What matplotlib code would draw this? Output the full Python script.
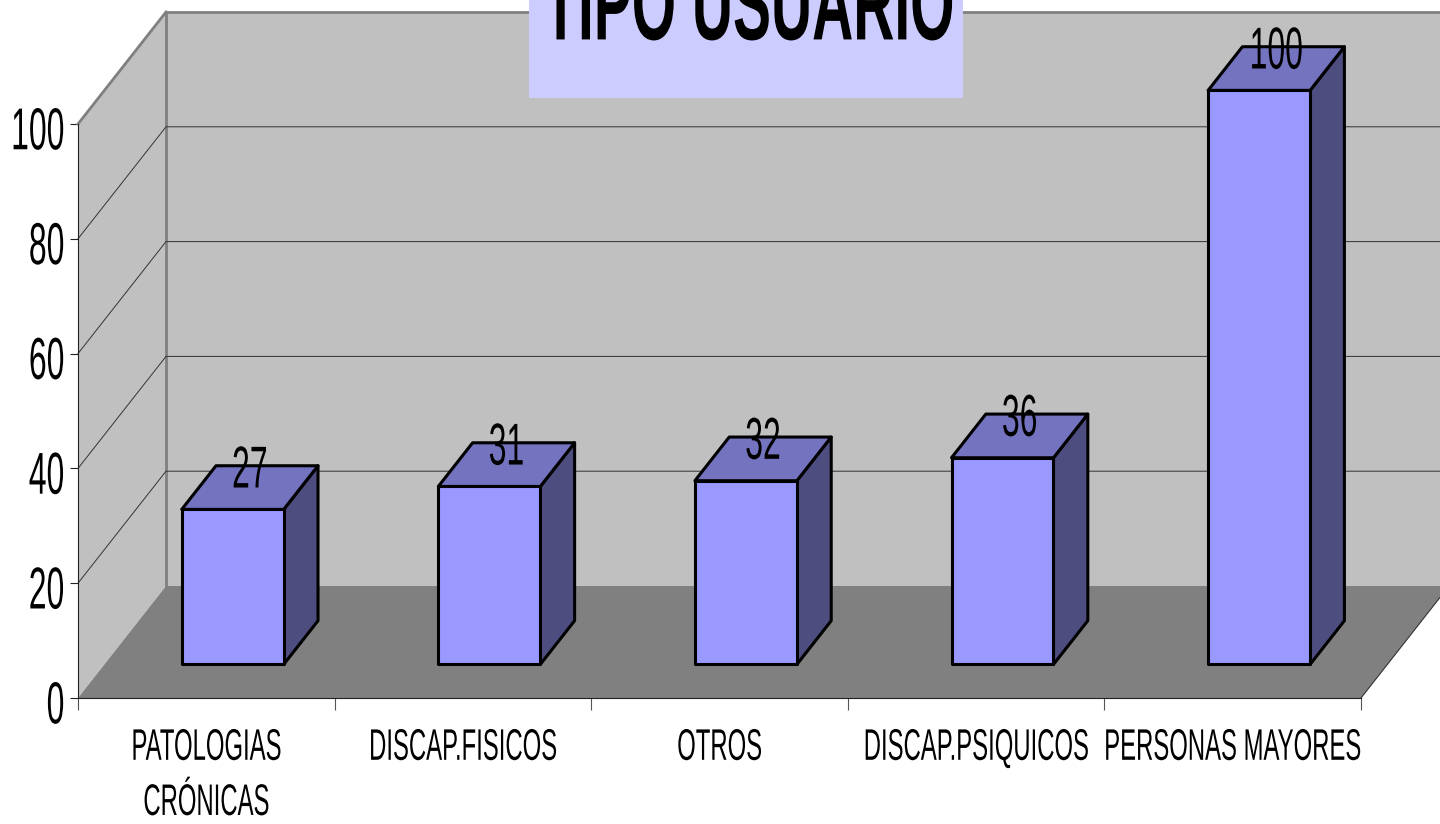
import matplotlib
matplotlib.use('Agg')
import matplotlib.pyplot as plt
from matplotlib.patches import Polygon, Rectangle
from matplotlib.patheffects import AbstractPathEffect
from matplotlib.transforms import Affine2D

categories = ['PATOLOGIAS\nCRÓNICAS', 'DISCAP.FISICOS', 'OTROS', 'DISCAP.PSIQUICOS', 'PERSONAS MAYORES']
values = [27, 31, 32, 36, 100]
y_ticks = [0, 20, 40, 60, 80, 100]
title = 'TIPO USUARIO'

W, H = 1440, 824
DEPTH_X = 88 / (1283 / 5)   # floor depth in category units
DEPTH_V = 112 / 5.74        # floor depth in value units
BAR_W = 0.3975
D0, D1 = 0.30, 0.69         # front and back of the bars along the depth


class TallText(AbstractPathEffect):
    # the original text is squeezed sideways, so stretch the glyphs upward
    def __init__(self, sy=1.85, down=0):
        self.sy = sy
        self.down = down

    def draw_path(self, renderer, gc, tpath, affine, rgbFace=None):
        st = Affine2D().translate(0, -36).scale(1, self.sy).translate(0, 36)
        renderer.draw_path(gc, tpath, st + affine + Affine2D().translate(0, -self.down), rgbFace)


def proj(x, v, d):
    return (x + d * DEPTH_X, v + d * DEPTH_V)


plt.rcParams['font.family'] = ['Liberation Sans', 'DejaVu Sans']
fig = plt.figure(figsize=(W / 100, H / 100), dpi=100)
ax = fig.add_axes([78 / W, (H - 698) / H, 1283 / W, 574 / H])
ax.set_xlim(0, 5)
ax.set_ylim(0, 100)
ax.patch.set_visible(False)
for s in ['top', 'right']:
    ax.spines[s].set_visible(False)
for s in ['left', 'bottom']:
    ax.spines[s].set_linewidth(0.8)
    ax.spines[s].set_color('#222222')

n = len(categories)
top = y_ticks[-1]

# walls and floor
ax.add_patch(Polygon([proj(0, 0, 0), proj(0, 0, 1), proj(0, top, 1), proj(0, top, 0)],
                     fc='#c0c0c0', ec='none', clip_on=False, zorder=1))
ax.add_patch(Polygon([proj(0, 0, 1), proj(n, 0, 1), proj(n, top, 1), proj(0, top, 1)],
                     fc='#c0c0c0', ec='none', clip_on=False, zorder=1))
ax.add_patch(Polygon([proj(0, 0, 0), proj(n, 0, 0), proj(n, 0, 1), proj(0, 0, 1)],
                     fc='#808080', ec='none', clip_on=False, zorder=1.5))
for a, b in [(proj(0, top, 0), proj(0, top, 1)), (proj(0, top, 1), proj(n, top, 1)),
             (proj(0, 0, 1), proj(0, top, 1))]:
    ax.plot([a[0], b[0]], [a[1], b[1]], color='#808080', lw=2, clip_on=False, zorder=2)
a, b = proj(n, 0, 0), proj(n, 0, 1)
ax.plot([a[0], b[0]], [a[1], b[1]], color='#333333', lw=0.8, clip_on=False, zorder=2)

# gridlines on both walls
for v in y_ticks[1:-1]:
    a, b, c = proj(0, v, 0), proj(0, v, 1), proj(n, v, 1)
    ax.plot([a[0], b[0], c[0]], [a[1], b[1], c[1]], color='#333333', lw=0.7, clip_on=False, zorder=2)

# bars
for i, v in enumerate(values):
    x0 = i + 0.5 - BAR_W / 2
    x1 = x0 + BAR_W
    ec = dict(ec='black', lw=2.2, joinstyle='round', clip_on=False, zorder=3)
    ax.add_patch(Polygon([proj(x1, 0, D0), proj(x1, 0, D1), proj(x1, v, D1), proj(x1, v, D0)], fc='#4d4d80', **ec))
    ax.add_patch(Polygon([proj(x0, v, D0), proj(x1, v, D0), proj(x1, v, D1), proj(x0, v, D1)], fc='#7373bf', **ec))
    ax.add_patch(Polygon([proj(x0, 0, D0), proj(x1, 0, D0), proj(x1, v, D0), proj(x0, v, D0)], fc='#9999ff', **ec))
    lx = proj(i + 0.5, v, (D0 + D1) / 2)[0]
    ly = proj(i + 0.5, v, D1)[1]
    t = ax.text(lx, ly, str(v), ha='center', va='center', fontsize=23, color='black',
                zorder=5, clip_on=False)
    t.set_path_effects([TallText(down=4)])

# axis ticks and labels
ax.set_yticks(y_ticks)
ax.set_yticklabels([str(v) for v in y_ticks], fontsize=23)
ax.tick_params(axis='y', length=5.8, width=0.8, color='#222222', pad=4)
ax.set_xticks(range(n + 1))
ax.set_xticklabels([])
ax.tick_params(axis='x', which='major', length=8.6, width=0.8, color='#555555')
ax.set_xticks([i + 0.5 for i in range(n)], minor=True)
ax.set_xticklabels(categories, minor=True, fontsize=17.2, linespacing=2.95)
ax.tick_params(axis='x', which='minor', length=0, pad=27)
for lab in ax.get_yticklabels():
    lab.set_path_effects([TallText(down=4)])
for lab in ax.get_xticklabels(minor=True):
    lab.set_path_effects([TallText()])

# title box, cut by the top of the figure as in the original
fig.add_artist(Rectangle((529 / W, (H - 98) / H), 434 / W, 98 / H, transform=fig.transFigure,
                         fc='#ccccff', ec='none', zorder=4))
t = fig.text(749 / W, (H - 14) / H, title, ha='center', va='center', fontsize=41,
             fontweight='bold', color='black', zorder=5)
t.set_path_effects([TallText(down=-7)])

fig.savefig('out.png', dpi=100)
